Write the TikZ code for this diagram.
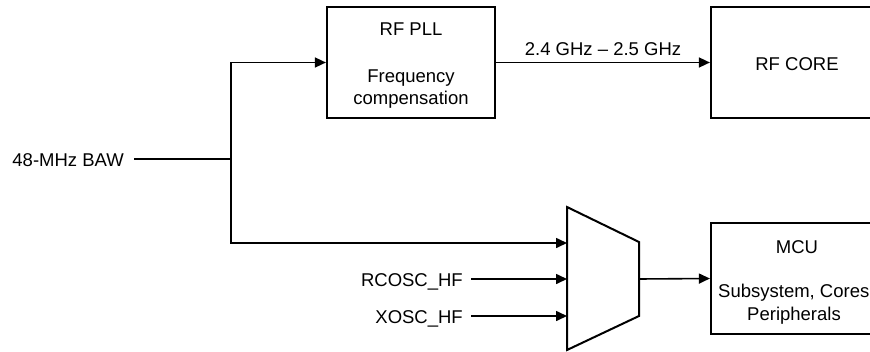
\documentclass[tikz,border=0pt]{standalone}
\usepackage{fontspec}
\setmainfont{Liberation Sans}
\usetikzlibrary{arrows.meta,calc}
\begin{document}
\begin{tikzpicture}[x=1pt,y=-1pt]
\tikzset{
  blk/.style={draw, line width=2.2pt, inner sep=0pt, minimum height=111pt},
  wire/.style={line width=1.6pt},
  arr/.style={wire, -{Triangle[length=11pt,width=10pt]}},
  lbl/.style={inner sep=0pt, font=\fontsize{18.5}{22}\selectfont, anchor=base},
}
\useasboundingbox (0,0) rectangle (870,351);
\clip (0,0) rectangle (870,351);

% blocks
\node[blk, minimum width=168pt] (pll) at (411,62.5) {};
\node[blk, minimum width=172pt] (core) at (797,62.5) {};
\node[blk, minimum width=172pt] (mcu) at (797,278.5) {};

% block texts
\node[lbl] (pllt) at (411,35) {RF PLL};
\node[lbl] (pllf) at (411,82) {Frequency};
\node[lbl] (pllc) at (411,104) {compensation};
\node[lbl] (coret) at (797,70) {RF CORE};
\node[lbl] (mcut) at (797,253) {MCU};
\node[lbl, anchor=base west] (mcus) at (718,297) {Subsystem, Cores};
\node[lbl] (mcup) at (794,320) {Peripherals};

% input labels
\node[lbl, anchor=base east] (baw) at (124,166) {48-MHz BAW};
\node[lbl, anchor=base east] (rcosc) at (463,286) {RCOSC\_HF};
\node[lbl, anchor=base east] (xosc) at (463,323) {XOSC\_HF};
\node[lbl] (freq) at (603,55) {2.4 GHz – 2.5 GHz};

% mux
\coordinate (mt) at (567,207);
\coordinate (mrt) at (639,242);
\coordinate (mrb) at (639,316);
\coordinate (mb) at (567,350);
\draw[line width=2pt, line join=miter] (mt) -- (mrt) -- (mrb) -- (mb) -- cycle;
\coordinate (m1) at (567,243);
\coordinate (m2) at (567,279);
\coordinate (m3) at (567,316);
\coordinate (mo) at (639,279);

% connectors
\coordinate (bawend) at (134,159);
\coordinate (j) at (231,159);
\coordinate (rcend) at (471,279);
\coordinate (xoend) at (471,316);
\draw[wire] (bawend) -- (j);
\draw[arr] (j) |- (pll.west);
\draw[arr] (j) |- (m1);
\draw[arr] (rcend) -- (m2);
\draw[arr] (xoend) -- (m3);
\draw[arr] (pll.east) -- (core.west);
\draw[arr] (mo) -- (mcu.west);
\end{tikzpicture}
\end{document}
